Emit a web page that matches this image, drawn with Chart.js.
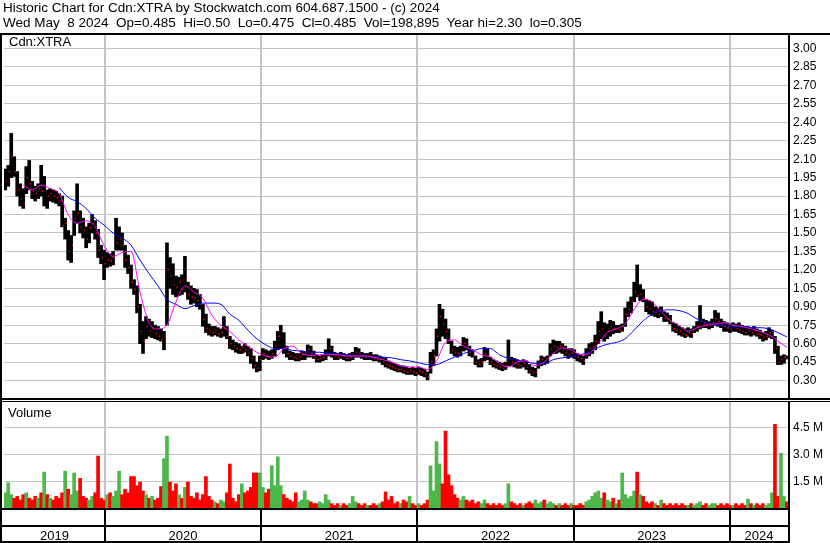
<!DOCTYPE html>
<html lang="en">
<head>
<meta charset="UTF-8">
<title>Historic Chart for Cdn:XTRA</title>
<script src="https://cdn.jsdelivr.net/npm/chart.js"></script>
<style>
  html, body { margin:0; padding:0; background:#fff; }
  body { width:830px; height:543px; position:relative; overflow:hidden; font-family:'Liberation Sans', Arial, sans-serif; }
  canvas { position:absolute; left:0; top:0; }
  .head { position:absolute; left:3px; font-size:13.5px; line-height:15px; white-space:pre; color:#000; }
  #head1 { top:0; }
  #head2 { top:15px; }
</style>
</head>
<body>
<canvas id="chart" width="830" height="543"></canvas>
<div class="head" id="head1">Historic Chart for Cdn:XTRA by Stockwatch.com 604.687.1500 - (c) 2024</div>
<div class="head" id="head2">Wed May  8 2024  Op=0.485  Hi=0.50  Lo=0.475  Cl=0.485  Vol=198,895  Year hi=2.30  lo=0.305</div>

<script>
// weekly bars, first week mid May 2019 -> May 8 2024
const firstWeek = 2019.363;
const weekLen = 7 / 365.25;

const highs = [
  2.02,2.05,2.31,2.12,2.00,1.90,1.86,2.04,2.09,1.92, 1.88,1.90,2.05,1.96,1.85,1.86,1.85,1.84,1.82,1.80,
  1.62,1.52,1.48,1.68,1.90,1.68,1.62,1.55,1.58,1.65, 1.60,1.53,1.40,1.36,1.34,1.33,1.35,1.62,1.55,1.50,
  1.40,1.32,1.24,1.12,1.07,0.92,0.78,0.82,0.80,0.78, 0.75,0.74,0.72,0.70,1.42,1.30,1.25,1.15,1.14,1.16,
  1.31,1.10,1.07,1.05,1.04,1.00,0.92,0.84,0.76,0.74, 0.74,0.73,0.72,0.82,0.74,0.66,0.63,0.61,0.60,0.58,
  0.60,0.58,0.56,0.50,0.45,0.50,0.56,0.55,0.54,0.55, 0.62,0.70,0.75,0.69,0.58,0.54,0.53,0.52,0.52,0.54,
  0.53,0.59,0.58,0.54,0.51,0.50,0.51,0.55,0.64,0.58, 0.53,0.52,0.53,0.52,0.51,0.52,0.53,0.57,0.56,0.53,
  0.52,0.52,0.53,0.51,0.51,0.50,0.49,0.48,0.46,0.45, 0.44,0.43,0.42,0.42,0.41,0.40,0.41,0.40,0.41,0.40,
  0.39,0.37,0.53,0.55,0.72,0.92,0.88,0.80,0.72,0.62, 0.58,0.57,0.58,0.65,0.64,0.58,0.55,0.50,0.47,0.48,
  0.57,0.56,0.49,0.47,0.46,0.45,0.44,0.45,0.63,0.49, 0.48,0.47,0.46,0.47,0.46,0.43,0.41,0.40,0.46,0.50,
  0.49,0.50,0.60,0.63,0.62,0.62,0.60,0.58,0.56,0.56, 0.55,0.52,0.51,0.50,0.56,0.60,0.61,0.67,0.78,0.86,
  0.77,0.76,0.79,0.78,0.75,0.75,0.76,0.89,0.94,0.98, 1.10,1.24,1.08,1.04,0.96,0.95,0.94,0.90,0.89,0.90,
  0.86,0.85,0.83,0.77,0.76,0.74,0.73,0.72,0.73,0.72, 0.74,0.78,0.91,0.80,0.79,0.78,0.80,0.87,0.85,0.80,
  0.78,0.77,0.76,0.77,0.76,0.77,0.75,0.74,0.74,0.73, 0.74,0.72,0.71,0.69,0.70,0.73,0.71,0.66,0.58,0.50,
  0.51,0.50
];
const lows = [
  1.85,1.88,1.95,1.96,1.80,1.72,1.70,1.82,1.85,1.78, 1.76,1.78,1.80,1.72,1.70,1.76,1.75,1.74,1.72,1.55,
  1.45,1.28,1.26,1.48,1.58,1.50,1.46,1.38,1.42,1.50, 1.45,1.30,1.25,1.12,1.22,1.23,1.24,1.36,1.36,1.36,
  1.22,1.17,1.05,1.00,0.85,0.60,0.52,0.64,0.66,0.65, 0.64,0.63,0.62,0.55,0.75,1.05,1.00,0.98,0.99,1.00,
  1.02,0.96,0.92,0.93,0.90,0.88,0.74,0.69,0.67,0.66, 0.67,0.66,0.65,0.66,0.64,0.56,0.55,0.53,0.52,0.52,
  0.53,0.50,0.44,0.40,0.37,0.38,0.47,0.48,0.47,0.48, 0.50,0.55,0.56,0.52,0.49,0.47,0.47,0.46,0.46,0.47,
  0.47,0.49,0.49,0.48,0.45,0.45,0.46,0.47,0.50,0.49, 0.47,0.47,0.48,0.47,0.46,0.46,0.47,0.49,0.49,0.48,
  0.47,0.47,0.47,0.46,0.46,0.45,0.43,0.41,0.40,0.39, 0.38,0.37,0.37,0.36,0.35,0.35,0.35,0.34,0.35,0.34,
  0.33,0.305,0.36,0.42,0.50,0.62,0.66,0.64,0.60,0.52, 0.50,0.49,0.50,0.54,0.55,0.50,0.49,0.43,0.41,0.41,
  0.46,0.47,0.43,0.41,0.40,0.39,0.38,0.39,0.42,0.42, 0.41,0.40,0.40,0.41,0.39,0.36,0.34,0.33,0.40,0.42,
  0.43,0.44,0.50,0.52,0.52,0.53,0.52,0.50,0.48,0.49, 0.48,0.46,0.45,0.43,0.48,0.50,0.52,0.55,0.60,0.64,
  0.62,0.64,0.66,0.68,0.69,0.69,0.70,0.74,0.82,0.85, 0.94,0.98,0.95,0.94,0.86,0.84,0.83,0.82,0.81,0.82,
  0.78,0.78,0.76,0.70,0.69,0.67,0.66,0.65,0.66,0.65, 0.69,0.70,0.72,0.73,0.73,0.72,0.73,0.75,0.74,0.73,
  0.70,0.70,0.69,0.70,0.70,0.69,0.68,0.67,0.67,0.66, 0.67,0.66,0.64,0.62,0.63,0.65,0.64,0.52,0.43,0.43,
  0.44,0.475
];
const closes = [
  1.92,2.00,2.12,2.00,1.85,1.78,1.74,1.95,1.90,1.84, 1.82,1.86,1.84,1.88,1.80,1.82,1.80,1.79,1.76,1.56,
  1.58,1.35,1.40,1.62,1.66,1.55,1.52,1.45,1.54,1.58, 1.50,1.36,1.30,1.25,1.28,1.27,1.30,1.42,1.45,1.40,
  1.28,1.22,1.10,1.04,0.90,0.70,0.62,0.74,0.70,0.72, 0.68,0.66,0.63,0.66,1.20,1.15,1.08,1.06,1.10,1.04,
  1.12,1.00,0.98,0.97,0.95,0.92,0.80,0.72,0.70,0.69, 0.71,0.68,0.69,0.72,0.66,0.60,0.58,0.56,0.55,0.57,
  0.55,0.52,0.48,0.42,0.40,0.47,0.52,0.50,0.49,0.52, 0.58,0.66,0.70,0.56,0.52,0.50,0.49,0.48,0.49,0.51,
  0.52,0.55,0.52,0.50,0.47,0.48,0.49,0.52,0.56,0.51, 0.50,0.49,0.51,0.50,0.48,0.49,0.50,0.53,0.52,0.50,
  0.49,0.50,0.49,0.48,0.47,0.47,0.45,0.43,0.42,0.41, 0.40,0.39,0.39,0.38,0.37,0.38,0.37,0.36,0.38,0.37,
  0.35,0.33,0.45,0.50,0.66,0.82,0.76,0.70,0.64,0.55, 0.53,0.52,0.54,0.60,0.58,0.53,0.50,0.45,0.43,0.45,
  0.52,0.50,0.45,0.43,0.42,0.41,0.40,0.42,0.48,0.45, 0.44,0.43,0.42,0.44,0.41,0.38,0.36,0.37,0.44,0.47,
  0.46,0.48,0.56,0.58,0.57,0.58,0.55,0.53,0.51,0.52, 0.50,0.49,0.48,0.46,0.52,0.56,0.57,0.62,0.70,0.72,
  0.66,0.70,0.74,0.72,0.72,0.71,0.74,0.84,0.88,0.94, 1.02,0.99,1.00,0.97,0.90,0.88,0.86,0.86,0.84,0.87,
  0.81,0.80,0.78,0.72,0.71,0.70,0.68,0.67,0.69,0.68, 0.72,0.74,0.78,0.76,0.75,0.75,0.77,0.80,0.78,0.76,
  0.74,0.73,0.72,0.74,0.72,0.71,0.70,0.69,0.70,0.69, 0.71,0.68,0.67,0.65,0.66,0.69,0.70,0.56,0.45,0.47,
  0.49,0.485
];
// volume in millions of shares
const volumes = [
  0.9,1.46,0.8,0.6,0.7,0.5,0.8,0.9,0.6,0.5, 0.7,0.6,0.9,2.05,0.8,0.6,0.5,0.7,0.6,0.9,
  2.1,1.1,0.8,2.0,1.0,1.7,0.7,0.6,0.5,0.7, 0.9,2.94,0.6,0.5,0.8,0.9,0.7,1.0,2.1,0.8,
  1.1,0.9,1.8,1.8,1.3,1.5,1.0,0.8,0.6,0.7, 0.5,0.6,1.25,2.8,4.05,1.5,1.0,1.4,0.8,0.6,
  1.2,1.5,0.7,0.6,0.9,0.5,0.8,1.8,0.7,0.5, 0.4,0.3,0.5,0.4,0.9,2.5,0.6,0.4,0.8,1.4,
  0.9,1.0,1.2,2.0,2.0,2.0,1.2,0.9,1.1,2.4, 1.3,2.9,1.3,0.8,0.6,0.5,0.4,0.9,0.4,0.5,
  1.0,0.5,0.4,0.3,0.3,0.4,0.3,0.8,0.5,0.3, 0.2,0.3,0.2,0.3,0.2,0.3,0.7,0.4,0.3,0.2,
  0.3,0.2,0.2,0.3,0.2,0.3,0.4,0.95,0.5,0.7, 0.3,0.4,0.3,0.5,0.4,0.7,0.3,0.2,0.3,0.2,
  0.3,0.5,2.4,1.0,3.74,2.5,1.4,4.33,1.9,1.3, 0.8,0.6,0.5,0.7,0.5,0.4,0.5,0.3,0.4,0.3,
  0.5,0.3,0.2,0.3,0.2,0.3,0.2,0.3,1.4,0.4, 0.3,0.2,0.3,0.2,0.3,0.4,0.3,0.5,0.3,0.4,
  0.5,0.3,0.4,0.3,0.2,0.3,0.2,0.3,0.2,0.3, 0.2,0.2,0.3,0.2,0.4,0.5,0.7,0.9,1.0,0.6,
  0.9,0.5,0.4,0.6,0.3,0.5,2.0,0.8,0.6,0.7, 1.0,2.05,0.8,0.7,0.4,0.3,0.4,0.3,0.2,0.5,
  0.3,0.2,0.3,0.2,0.3,0.2,0.3,0.2,0.2,0.3, 0.2,0.3,0.4,0.2,0.3,0.2,0.3,0.3,0.2,0.3,
  0.2,0.3,0.2,0.2,0.3,0.2,0.3,0.2,0.55,0.3, 0.2,0.3,0.2,0.3,0.2,0.3,0.9,4.7,0.7,3.1,
  0.7,0.4
];
// moving averages read every 3 weeks
const maFastStart = 6;
const maFast = [
  1.89,1.85,1.89,1.86,1.82,1.65,1.58,1.60,1.55,1.40, 1.31,1.34,1.35,1.02,0.77,0.72,0.75,0.94,1.07,1.02,
  0.97,0.83,0.75,0.70,0.63,0.58,0.53,0.50,0.49,0.56, 0.58,0.52,0.505,0.51,0.51,0.51,0.50,0.50,0.50,0.49,
  0.47,0.45,0.42,0.41,0.41,0.39,0.46,0.61,0.63,0.58, 0.55,0.51,0.49,0.44,0.41,0.45,0.46,0.42,0.45,0.52,
  0.565,0.55,0.51,0.52,0.60,0.69,0.72,0.76,0.88,0.96, 0.94,0.86,0.79,0.75,0.70,0.73,0.75,0.76,0.77,0.75,
  0.74,0.72,0.70,0.67,0.62,0.57
];
const maSlowStart = 18;
const maSlow = [
  1.87,1.79,1.755,1.70,1.62,1.565,1.50,1.46,1.40,1.28, 1.17,1.07,0.96,0.92,0.885,0.91,0.93,0.93,0.92,0.84,
  0.79,0.71,0.64,0.59,0.56,0.56,0.545,0.54,0.53,0.53, 0.52,0.515,0.51,0.505,0.50,0.495,0.49,0.485,0.47,0.46,
  0.445,0.43,0.43,0.46,0.49,0.52,0.54,0.56,0.56,0.51, 0.48,0.465,0.45,0.44,0.44,0.47,0.485,0.495,0.51,0.53,
  0.57,0.595,0.61,0.64,0.71,0.785,0.84,0.87,0.875,0.87, 0.845,0.80,0.77,0.755,0.745,0.74,0.74,0.73,0.73,0.72,
  0.69,0.655
];
const maStep = 3;

const priceTicks = [0.30,0.45,0.60,0.75,0.90,1.05,1.20,1.35,1.50,1.65,1.80,1.95,2.10,2.25,2.40,2.55,2.70,2.85,3.00];
const volumeTicks = [1.5, 3.0, 4.5];
const yearStarts = [2020, 2021, 2022, 2023, 2024];
const yearLabels = ['2019', '2020', '2021', '2022', '2023', '2024'];

const GREEN = '#4cb84c', RED = '#ff0000', GRID = '#c4c4c4';
const FONT = "'Liberation Sans', Arial, sans-serif";
Chart.defaults.font.family = FONT;

const wx = i => firstWeek + i * weekLen;
const priceBars = highs.map((h, i) => ({ x: wx(i), y: [lows[i], h] }));
const closeTicks = closes.map((c, i) => ({ x: wx(i) + weekLen * 0.4, y: c }));
const volBars = volumes.map((v, i) => ({ x: wx(i), y: v }));
const volColors = closes.map((c, i) => (i === 0 || c >= closes[i - 1]) ? GREEN : RED);
const fastLine = maFast.map((v, k) => ({ x: wx(maFastStart + k * maStep), y: v }));
const slowLine = maSlow.map((v, k) => ({ x: wx(maSlowStart + k * maStep), y: v }));

// frame, panel captions and the year strip
const framePlugin = {
  id: 'frame',
  afterDraw(chart) {
    const { ctx, chartArea: a, scales } = chart;
    const x = scales.x, yp = scales.y;
    ctx.save();
    ctx.fillStyle = '#000';
    ctx.fillRect(0, a.top - 2, 830, 2);
    ctx.fillRect(0, a.top - 2, 2, 543 - a.top + 2);
    ctx.fillRect(a.right, a.top - 2, 2, 543 - a.top + 2);
    ctx.fillStyle = '#fff';
    ctx.fillRect(0, yp.bottom - 1, 830, 4);
    ctx.fillStyle = '#000';
    ctx.fillRect(0, yp.bottom - 1, 830, 2);
    ctx.fillRect(0, yp.bottom + 2, 830, 1);
    ctx.fillRect(0, a.bottom - 1, a.right + 2, 2);
    ctx.fillRect(0, a.bottom + 16, a.right + 2, 2);
    ctx.fillRect(0, 541, a.right + 2, 2);
    ctx.fillRect(0, a.top - 2, 2, 543 - a.top + 2);

    const edges = [a.left].concat(yearStarts.map(v => x.getPixelForValue(v)), [a.right]);
    yearStarts.forEach(v => {
      const px = Math.round(x.getPixelForValue(v));
      ctx.fillRect(px - 1, a.bottom, 2, 543 - a.bottom);
    });
    ctx.font = '13px ' + FONT;
    ctx.textAlign = 'center';
    ctx.textBaseline = 'alphabetic';
    yearLabels.forEach((t, k) => ctx.fillText(t, (edges[k] + edges[k + 1]) / 2, 540));

    ctx.textAlign = 'left';
    ctx.fillText('Cdn:XTRA', 9, a.top + 11);
    ctx.fillText('Volume', 8, yp.bottom + 18);
    ctx.restore();
  }
};

new Chart(document.getElementById('chart'), {
  data: {
    datasets: [
      { type: 'line', data: fastLine, borderColor: '#ff00ff', borderWidth: 1, pointRadius: 0,
        cubicInterpolationMode: 'monotone', yAxisID: 'y', order: 0 },
      { type: 'line', data: slowLine, borderColor: '#0000ff', borderWidth: 1, pointRadius: 0,
        cubicInterpolationMode: 'monotone', yAxisID: 'y', order: 1 },
      { type: 'line', data: closeTicks, showLine: false, pointStyle: 'rect', pointRadius: 1,
        pointBackgroundColor: RED, pointBorderWidth: 0, yAxisID: 'y', order: 2 },
      { type: 'bar', data: priceBars, backgroundColor: '#000', barThickness: 3, grouped: false,
        yAxisID: 'y', order: 3 },
      { type: 'bar', data: volBars, backgroundColor: volColors, barThickness: 3, grouped: false,
        yAxisID: 'yv', order: 4 }
    ]
  },
  options: {
    responsive: false,
    animation: false,
    devicePixelRatio: 1,
    layout: { padding: { top: 35, left: 2, right: 0, bottom: 34 } },
    plugins: { legend: { display: false }, tooltip: { enabled: false } },
    scales: {
      x: {
        type: 'linear', min: 2019.355, max: 2024.372, offset: false,
        afterBuildTicks: s => { s.ticks = yearStarts.map(v => ({ value: v })); },
        afterFit: s => { s.height = 0; },
        ticks: { display: false },
        grid: { color: GRID, lineWidth: 2, drawTicks: false, offset: false },
        border: { display: false }
      },
      y: {
        position: 'right', stack: 'panels', stackWeight: 364,
        min: 0.15, max: 3.11,
        afterBuildTicks: s => { s.ticks = priceTicks.map(v => ({ value: v })); },
        afterFit: s => { s.width = 42; },
        ticks: { color: '#000', padding: 5, autoSkip: false, font: { size: 12 }, callback: v => v.toFixed(2) },
        grid: { color: GRID, lineWidth: 1, drawTicks: false },
        border: { display: false }
      },
      yv: {
        position: 'right', stack: 'panels', stackWeight: 110,
        min: 0, max: 6.11,
        afterBuildTicks: s => { s.ticks = volumeTicks.map(v => ({ value: v })); },
        afterFit: s => { s.width = 42; },
        ticks: { color: '#000', padding: 5, autoSkip: false, font: { size: 12 }, callback: v => v.toFixed(1) + ' M' },
        grid: { color: GRID, lineWidth: 1, drawTicks: false },
        border: { display: false }
      }
    }
  },
  plugins: [framePlugin]
});
</script>
</body>
</html>
